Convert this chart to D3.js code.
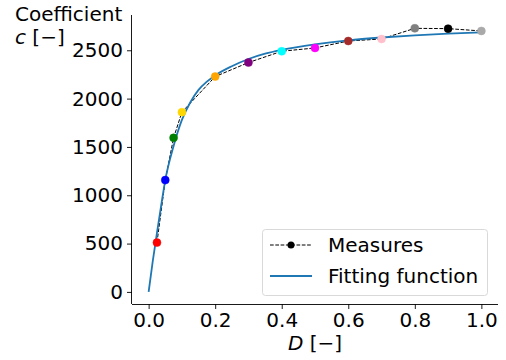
<!DOCTYPE html>
<html>
<head>
<meta charset="utf-8">
<script src="https://cdn.jsdelivr.net/npm/d3@7"></script>
<style>
  body { margin: 0; background: #fff; }
  svg { font-family: "DejaVu Sans", sans-serif; }
</style>
</head>
<body>
<div id="chart"></div>
<script>
// data
const measureD = [0.025, 0.05, 0.075, 0.1, 0.2, 0.3, 0.4, 0.5, 0.6, 0.7, 0.8, 0.9, 1.0];
const measureC = [510, 1157, 1594, 1860, 2228, 2373, 2490, 2524, 2596, 2617, 2727, 2724, 2700];
const measureColors = ["red", "blue", "green", "gold", "orange", "purple", "cyan", "magenta",
    "#a52a2a", "pink", "gray", "black", "darkgray"];

const fitD = [0, 0.0125, 0.025, 0.0375, 0.05, 0.075, 0.1, 0.125, 0.15, 0.175, 0.2, 0.25, 0.3,
    0.35, 0.4, 0.5, 0.6, 0.7, 0.8, 0.9, 1.0];
const fitC = [0, 320, 610, 890, 1157, 1510, 1780, 1960, 2090, 2175, 2240, 2335, 2410,
    2465, 2505, 2562, 2603, 2632, 2655, 2672, 2685];

const xTicks = [0, 0.2, 0.4, 0.6, 0.8, 1.0];
const yTicks = [0, 500, 1000, 1500, 2000, 2500];

const W = 506, H = 360;
const plot = { left: 132, right: 498, top: 15, bottom: 304 };
const fs = "20px";

const svg = d3.select("#chart").append("svg")
    .attr("width", W)
    .attr("height", H);

const x = d3.scaleLinear().domain([-0.05, 1.05]).range([plot.left, plot.right]);
const y = d3.scaleLinear().domain([-125, 2865]).range([plot.bottom, plot.top]);

// axes
const xAxis = svg.append("g")
    .attr("transform", `translate(0,${plot.bottom})`)
    .call(d3.axisBottom(x).tickValues(xTicks).tickFormat(d3.format(".1f")).tickSize(5).tickPadding(4));
const yAxis = svg.append("g")
    .attr("transform", `translate(${plot.left},0)`)
    .call(d3.axisLeft(y).tickValues(yTicks).tickFormat(d3.format("d")).tickSize(5).tickPadding(4));

[xAxis, yAxis].forEach(g => {
    g.select(".domain").attr("stroke", "#000").attr("stroke-width", 0.9);
    g.selectAll(".tick line").attr("stroke", "#000").attr("stroke-width", 0.9);
    g.selectAll(".tick text").attr("fill", "#000").style("font-size", fs)
        .style("font-family", "DejaVu Sans");
});
// no outer ticks on the spines
xAxis.select(".domain").attr("d", `M${plot.left},0.5H${plot.right}`);
yAxis.select(".domain").attr("d", `M-0.5,${plot.bottom}V${plot.top}`);

// fitting function
const fitData = fitD.map((d, i) => ({ d: d, c: fitC[i] }));
const fitLine = d3.line()
    .x(p => x(p.d))
    .y(p => y(p.c))
    .curve(d3.curveMonotoneX);

// measures
const measData = measureD.map((d, i) => ({ d: d, c: measureC[i], color: measureColors[i] }));
const measLine = d3.line().x(p => x(p.d)).y(p => y(p.c));

svg.append("path")
    .datum(measData)
    .attr("d", measLine)
    .attr("fill", "none")
    .attr("stroke", "#000")
    .attr("stroke-width", 1)
    .attr("stroke-dasharray", "3.7,1.6");

svg.append("path")
    .datum(fitData)
    .attr("d", fitLine)
    .attr("fill", "none")
    .attr("stroke", "#1f77b4")
    .attr("stroke-width", 1.8);

svg.selectAll(".pt")
    .data(measData)
    .enter().append("circle")
    .attr("class", "pt")
    .attr("cx", p => x(p.d))
    .attr("cy", p => y(p.c))
    .attr("r", 4)
    .attr("fill", p => p.color)
    .attr("stroke", p => p.color)
    .attr("stroke-opacity", 0.6)
    .attr("stroke-width", 0.8);

// axis labels
const xl = svg.append("text")
    .attr("x", (plot.left + plot.right) / 2)
    .attr("y", 350)
    .attr("text-anchor", "middle")
    .style("font-size", fs);
xl.append("tspan").style("font-style", "italic").text("D");
xl.append("tspan").text(" [\u2212]");

svg.append("text")
    .attr("x", 15)
    .attr("y", 21)
    .style("font-size", fs)
    .text("Coefficient");
const yl = svg.append("text")
    .attr("x", 15)
    .attr("y", 44)
    .style("font-size", fs);
yl.append("tspan").style("font-style", "italic").text("c");
yl.append("tspan").text(" [\u2212]");

// legend
const lg = svg.append("g");
lg.append("rect")
    .attr("x", 262.5).attr("y", 229.5)
    .attr("width", 225).attr("height", 66)
    .attr("rx", 3)
    .attr("fill", "#fff").attr("fill-opacity", 0.8)
    .attr("stroke", "#d9d9d9").attr("stroke-width", 1);

lg.append("line")
    .attr("x1", 270).attr("x2", 312).attr("y1", 245).attr("y2", 245)
    .attr("stroke", "#000").attr("stroke-width", 1).attr("stroke-dasharray", "3.7,1.6");
lg.append("circle").attr("cx", 291).attr("cy", 245).attr("r", 3.5).attr("fill", "#000");
lg.append("text").attr("x", 328).attr("y", 252).style("font-size", fs).text("Measures");

lg.append("line")
    .attr("x1", 270).attr("x2", 312).attr("y1", 276).attr("y2", 276)
    .attr("stroke", "#1f77b4").attr("stroke-width", 1.8);
lg.append("text").attr("x", 328).attr("y", 283).style("font-size", fs).text("Fitting function");
</script>
</body>
</html>
